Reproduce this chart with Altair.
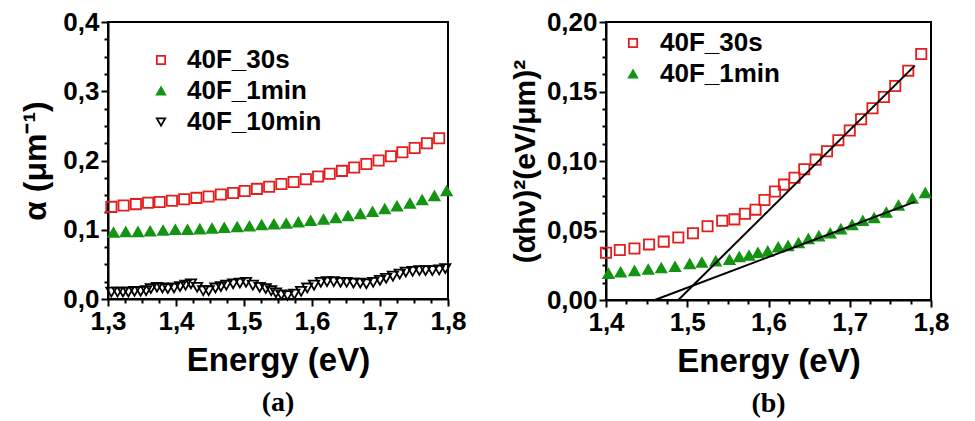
import altair as alt
import pandas as pd

FONT = "Liberation Sans"
SERIF = "Liberation Serif"
RED = "#e31e1e"
GREEN = "#139413"
BLACK = "#000000"

series_names = ["40F_30s", "40F_1min", "40F_10min"]
series_shapes = ["square", "triangle-up", "triangle-down"]
series_strokes = [RED, GREEN, BLACK]
series_fills = ["transparent", GREEN, "transparent"]

# ---------- panel (a): alpha vs energy ----------
a_30s_E = [1.305, 1.323, 1.341, 1.359, 1.376, 1.394, 1.412, 1.430, 1.448, 1.466,
           1.484, 1.501, 1.519, 1.537, 1.555, 1.573, 1.591, 1.609, 1.626, 1.644,
           1.662, 1.680, 1.698, 1.716, 1.733, 1.751, 1.769, 1.787]
a_30s_v = [0.133, 0.135, 0.137, 0.139, 0.140, 0.142, 0.144, 0.146, 0.148, 0.151,
           0.153, 0.156, 0.159, 0.162, 0.166, 0.169, 0.173, 0.177, 0.181, 0.185,
           0.190, 0.195, 0.200, 0.206, 0.212, 0.218, 0.225, 0.232]

a_1min_E = [1.308, 1.326, 1.344, 1.362, 1.381, 1.399, 1.417, 1.435, 1.453, 1.471,
            1.490, 1.508, 1.526, 1.544, 1.562, 1.580, 1.598, 1.617, 1.635, 1.653,
            1.671, 1.689, 1.707, 1.725, 1.744, 1.762, 1.780, 1.798]
a_1min_v = [0.096, 0.097, 0.097, 0.098, 0.099, 0.100, 0.100, 0.101, 0.102, 0.103,
            0.104, 0.105, 0.107, 0.108, 0.109, 0.111, 0.113, 0.115, 0.117, 0.120,
            0.123, 0.126, 0.130, 0.134, 0.138, 0.143, 0.149, 0.156]

a_10min_E = [1.305, 1.314, 1.322, 1.330, 1.339, 1.348, 1.356, 1.363, 1.372, 1.380,
             1.388, 1.397, 1.406, 1.414, 1.422, 1.431, 1.440, 1.448, 1.458, 1.466,
             1.474, 1.484, 1.494, 1.503, 1.513, 1.523, 1.532, 1.540, 1.547, 1.555,
             1.564, 1.574, 1.584, 1.593, 1.603, 1.613, 1.622, 1.632, 1.642, 1.651,
             1.661, 1.671, 1.680, 1.690, 1.700, 1.709, 1.719, 1.729, 1.738, 1.748,
             1.758, 1.767, 1.777, 1.787, 1.796]
a_10min_v = [0.010, 0.010, 0.010, 0.010, 0.011, 0.011, 0.012, 0.015, 0.017, 0.016,
             0.015, 0.016, 0.018, 0.020, 0.022, 0.017, 0.012, 0.012, 0.016, 0.018,
             0.020, 0.022, 0.023, 0.024, 0.020, 0.017, 0.015, 0.012, 0.009, 0.006,
             0.005, 0.007, 0.011, 0.016, 0.020, 0.024, 0.025, 0.025, 0.024, 0.024,
             0.023, 0.023, 0.022, 0.024, 0.027, 0.030, 0.033, 0.036, 0.039, 0.040,
             0.041, 0.041, 0.041, 0.042, 0.044]

# ---------- panel (b): (alpha h nu)^2 vs energy ----------
b_30s_E = [1.400, 1.417, 1.435, 1.453, 1.471, 1.489, 1.507, 1.525, 1.543, 1.558,
           1.571, 1.584, 1.595, 1.608, 1.619, 1.632, 1.644, 1.658, 1.672, 1.686,
           1.700, 1.714, 1.728, 1.742, 1.756, 1.772, 1.788]
b_30s_v = [0.034, 0.036, 0.037, 0.040, 0.042, 0.045, 0.048, 0.053, 0.057, 0.058,
           0.062, 0.065, 0.072, 0.078, 0.083, 0.088, 0.094, 0.101, 0.107, 0.115,
           0.122, 0.130, 0.138, 0.146, 0.154, 0.165, 0.177]

b_1min_E = [1.403, 1.418, 1.435, 1.452, 1.468, 1.485, 1.503, 1.518, 1.535, 1.552,
            1.564, 1.576, 1.587, 1.599, 1.612, 1.624, 1.637, 1.649, 1.662, 1.676,
            1.689, 1.703, 1.716, 1.730, 1.745, 1.760, 1.777, 1.793]
b_1min_v = [0.019, 0.020, 0.021, 0.022, 0.023, 0.024, 0.026, 0.027, 0.028, 0.029,
            0.031, 0.032, 0.034, 0.035, 0.038, 0.039, 0.041, 0.044, 0.046, 0.048,
            0.051, 0.054, 0.057, 0.059, 0.063, 0.068, 0.073, 0.077]

fit_30s_E = [1.489, 1.780]
fit_30s_v = [0.000, 0.1686]
fit_1min_E = [1.460, 1.780]
fit_1min_v = [0.000, 0.0706]

# ---------- tick values ----------
a_x_ticks = [1.3, 1.325, 1.35, 1.375, 1.4, 1.425, 1.45, 1.475, 1.5, 1.525, 1.55,
             1.575, 1.6, 1.625, 1.65, 1.675, 1.7, 1.725, 1.75, 1.775, 1.8]
a_y_ticks = [0.0, 0.025, 0.05, 0.075, 0.1, 0.125, 0.15, 0.175, 0.2, 0.225, 0.25,
             0.275, 0.3, 0.325, 0.35, 0.375, 0.4]
b_x_ticks = [1.4, 1.425, 1.45, 1.475, 1.5, 1.525, 1.55, 1.575, 1.6, 1.625, 1.65,
             1.675, 1.7, 1.725, 1.75, 1.775, 1.8]
b_y_ticks = [0.0, 0.0125, 0.025, 0.0375, 0.05, 0.0625, 0.075, 0.0875, 0.1, 0.1125,
             0.125, 0.1375, 0.15, 0.1625, 0.175, 0.1875, 0.2]


def frame(E, v, name):
    return pd.DataFrame({"E": E, "v": v, "s": name})


df_a = pd.concat([frame(a_30s_E, a_30s_v, "40F_30s"),
                  frame(a_1min_E, a_1min_v, "40F_1min"),
                  frame(a_10min_E, a_10min_v, "40F_10min")], ignore_index=True)
df_b = pd.concat([frame(b_30s_E, b_30s_v, "40F_30s"),
                  frame(b_1min_E, b_1min_v, "40F_1min")], ignore_index=True)
df_fit = pd.concat([frame(fit_30s_E, fit_30s_v, "fit_30s"),
                    frame(fit_1min_E, fit_1min_v, "fit_1min")], ignore_index=True)


def make_axis(values, k, dec, title, title_pad, **kw):
    test = f"abs(datum.value * {k} - round(datum.value * {k})) < 0.001"
    return alt.Axis(
        values=values, title=title,
        labelExpr=f"({test}) ? replace(format(datum.value, '.{dec}f'), '.', ',') : ''",
        tickSize={"condition": {"test": test, "value": 7}, "value": 4},
        tickWidth=2, tickColor="black", domainColor="black", domainWidth=2,
        labelFont=FONT, labelFontSize=26, labelFontWeight="bold", labelColor="black",
        labelPadding=2, labelOverlap=False, labelFlush=False, labelBound=False,
        titleFont=FONT, titleFontWeight="bold", titleColor="black",
        titlePadding=title_pad, grid=False, **kw)


def make_legend(x, y, offset):
    return alt.Legend(orient="none", legendX=x, legendY=y, title=None,
                      labelFont=FONT, labelFontSize=26, labelFontWeight="bold",
                      labelColor="black", symbolSize=70, symbolStrokeWidth=1.8,
                      labelOffset=offset, rowPadding=5, padding=0)


def point_layer(df, names, xs, ys, xa, ya, legend):
    n = len(names)
    return alt.Chart(df).mark_point(size=105, strokeWidth=1.8, opacity=1).encode(
        x=alt.X("E:Q", scale=xs, axis=xa),
        y=alt.Y("v:Q", scale=ys, axis=ya),
        shape=alt.Shape("s:N", scale=alt.Scale(domain=names, range=series_shapes[:n]), legend=legend),
        stroke=alt.Stroke("s:N", scale=alt.Scale(domain=names, range=series_strokes[:n]), legend=legend),
        fill=alt.Fill("s:N", scale=alt.Scale(domain=names, range=series_fills[:n]), legend=legend),
    )


# ---- left panel ----
xs_a = alt.Scale(domain=[1.3, 1.8], nice=False, zero=False)
ys_a = alt.Scale(domain=[0, 0.4], nice=False, zero=False)
xa_a = make_axis(a_x_ticks, 10, 1, "Energy (eV)", 10, titleFontSize=33)
ya_a = make_axis(a_y_ticks, 10, 1, "α (μm⁻¹)", 10, titleFontSize=32)
leg_a = make_legend(40, 25, 13)

left = point_layer(df_a, series_names, xs_a, ys_a, xa_a, ya_a, leg_a).properties(
    width=340, height=277,
    title=alt.TitleParams("(a)", orient="bottom", font=SERIF, fontSize=28,
                          fontWeight="bold", color="black", offset=12, anchor="middle"))

# ---- right panel ----
xs_b = alt.Scale(domain=[1.4, 1.8], nice=False, zero=False)
ys_b = alt.Scale(domain=[0, 0.2], nice=False, zero=False)
xa_b = make_axis(b_x_ticks, 10, 1, "Energy (eV)", 10, titleFontSize=33)
ya_b = make_axis(b_y_ticks, 20, 2, "(αhν)²(eV/μm)²", 6, titleFontSize=30)
leg_b = make_legend(14, 8, 14)

pts_b = point_layer(df_b, series_names[:2], xs_b, ys_b, xa_b, ya_b, leg_b)
fits = alt.Chart(df_fit).mark_line(color="black", strokeWidth=2).encode(
    x=alt.X("E:Q", scale=xs_b, axis=xa_b),
    y=alt.Y("v:Q", scale=ys_b, axis=ya_b),
    detail="s:N",
)
right = alt.layer(pts_b, fits).properties(
    width=325, height=278,
    title=alt.TitleParams("(b)", orient="bottom", font=SERIF, fontSize=28,
                          fontWeight="bold", color="black", offset=12, anchor="middle"))

chart = alt.hconcat(left, right, spacing=41).resolve_scale(
    shape="independent", stroke="independent", fill="independent",
    x="independent", y="independent",
).resolve_legend(
    shape="independent", stroke="independent", fill="independent",
).properties(
    padding={"left": 10, "top": 0, "right": 0, "bottom": 0},
    background="white",
).configure_view(stroke="black", strokeWidth=2)

chart.save("out.html", embed_options={"renderer": "svg", "actions": False})
